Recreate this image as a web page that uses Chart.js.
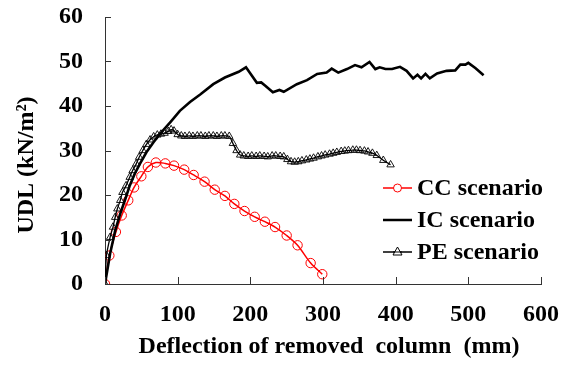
<!DOCTYPE html>
<html><head><meta charset="utf-8">
<script src="https://cdn.jsdelivr.net/npm/chart.js@4/dist/chart.umd.min.js"></script>
<style>html,body{margin:0;padding:0;background:#fff}canvas{display:block}</style>
</head><body>
<canvas id="c" width="569" height="367"></canvas>
<script>
// ---- data ----
const ccX = [0, 6, 15, 23, 32, 40, 50, 59, 70, 83, 95, 109, 122, 137, 151, 165, 178, 192, 206, 220, 234, 250, 265, 283, 299];
const ccY = [0, 6.4, 11.7, 15.4, 18.8, 21.7, 24.2, 26.3, 27.3, 27.1, 26.6, 25.7, 24.5, 23.0, 21.2, 19.8, 18.0, 16.4, 15.1, 14.0, 12.8, 10.9, 8.7, 4.7, 2.2];

const icX = [0, 7, 14, 21, 28, 34, 41, 48, 57, 67, 76, 90, 103, 117, 131, 149, 165, 184, 194, 209, 215, 221, 231, 240, 246, 264, 278, 292, 305, 312, 321, 333, 344, 353, 364, 372, 378, 386, 395, 406, 415, 424, 430, 435, 441, 447, 457, 470, 482, 489, 496, 500, 510, 521];
const icY = [0, 6.8, 12.0, 15.8, 19.1, 22.1, 24.8, 27.0, 29.6, 31.9, 33.8, 36.4, 38.9, 40.9, 42.6, 44.9, 46.4, 47.7, 48.7, 45.2, 45.3, 44.5, 43.1, 43.6, 43.2, 44.9, 45.8, 47.2, 47.5, 48.4, 47.5, 48.3, 49.2, 48.7, 49.9, 48.3, 48.7, 48.3, 48.3, 48.8, 47.9, 46.2, 47.0, 46.2, 47.2, 46.2, 47.3, 47.9, 48.0, 49.3, 49.3, 49.7, 48.5, 46.9];

const peX = [0, 2, 7, 11, 14, 17, 21, 24, 29, 34, 38, 43, 47, 52, 57, 62, 67, 72, 77, 82, 87, 91, 95, 100, 105, 110, 116, 121, 127, 132, 138, 143, 149, 154, 160, 165, 171, 176, 181, 186, 191, 197, 202, 208, 213, 219, 224, 230, 235, 241, 246, 251, 256, 261, 266, 271, 277, 282, 287, 293, 298, 303, 309, 314, 319, 325, 330, 335, 341, 346, 351, 357, 362, 368, 374, 383, 393];
const peY = [0, 6.4, 10.5, 12.8, 15.0, 16.9, 18.8, 20.6, 22.1, 24.0, 25.5, 27.0, 28.5, 30.0, 31.4, 32.4, 33.1, 33.5, 33.7, 33.9, 34.3, 34.7, 34.4, 33.6, 33.3, 33.2, 33.3, 33.2, 33.3, 33.3, 33.2, 33.3, 33.3, 33.2, 33.3, 33.3, 33.2, 31.6, 30.0, 29.0, 28.8, 28.7, 28.8, 28.7, 28.8, 28.7, 28.6, 28.8, 28.8, 28.7, 28.6, 28.0, 27.5, 27.4, 27.5, 27.7, 27.9, 28.1, 28.3, 28.6, 28.8, 29.0, 29.2, 29.4, 29.6, 29.8, 29.9, 30.0, 30.1, 30.1, 30.0, 29.9, 29.7, 29.4, 28.9, 27.8, 26.8];

const seriesNames = ["CC scenario", "IC scenario", "PE scenario"];
const xTicks = [0, 100, 200, 300, 400, 500, 600];
const yTicks = [0, 10, 20, 30, 40, 50, 60];
const xTitle = "Deflection of removed  column  (mm)";
const yTitle = "UDL (kN/m\u00B2)";

const FONT = "'Liberation Serif','Times New Roman',serif";
const pts = (xs, ys) => xs.map((x, i) => ({x: x, y: ys[i]}));

const insideTicks = {
  id: 'insideTicks',
  afterDraw(chart) {
    const {ctx, chartArea: a, scales: {x, y}} = chart;
    ctx.save();
    ctx.strokeStyle = '#333';
    ctx.lineWidth = 1;
    ctx.beginPath();
    yTicks.forEach(v => { const py = Math.round(y.getPixelForValue(v)) + 0.5; ctx.moveTo(a.left, py); ctx.lineTo(a.left + 6, py); });
    xTicks.forEach(v => { const px = Math.round(x.getPixelForValue(v)) + 0.5; ctx.moveTo(px, a.bottom); ctx.lineTo(px, a.bottom - 7); });
    ctx.stroke();
    // axis titles
    ctx.fillStyle = '#000';
    ctx.font = "bold 24px " + FONT;
    ctx.textAlign = 'center';
    ctx.textBaseline = 'middle';
    ctx.fillText(xTitle, 329, 347);
    ctx.translate(27, 165);
    ctx.rotate(-Math.PI / 2);
    ctx.fillText(yTitle, 0, 0);
    ctx.restore();
  }
};

const customLegend = {
  id: 'customLegend',
  afterDraw(chart) {
    const ctx = chart.ctx;
    const rows = [188, 220, 252];
    ctx.save();
    chart.data.datasets.forEach((ds, i) => {
      const yy = rows[i];
      ctx.strokeStyle = ds.borderColor;
      ctx.lineWidth = i === 1 ? 2.5 : 1.5;
      ctx.beginPath(); ctx.moveTo(383, yy); ctx.lineTo(412, yy); ctx.stroke();
      ctx.lineWidth = 1;
      if (ds.pointStyle === 'circle' && ds.pointRadius > 0) {
        ctx.beginPath(); ctx.arc(397.5, yy, 4, 0, Math.PI * 2); ctx.fillStyle = '#fff'; ctx.fill(); ctx.stroke();
      } else if (ds.pointStyle === 'triangle') {
        ctx.beginPath(); ctx.moveTo(397.5, yy - 5); ctx.lineTo(402, yy + 3); ctx.lineTo(393, yy + 3); ctx.closePath(); ctx.fillStyle = '#fff'; ctx.fill(); ctx.stroke();
        ctx.beginPath(); ctx.moveTo(393, yy); ctx.lineTo(402, yy); ctx.stroke();
      }
      ctx.fillStyle = '#000';
      ctx.font = "bold 24px " + FONT;
      ctx.textAlign = 'left';
      ctx.textBaseline = 'middle';
      ctx.fillText(ds.label, 417, yy + 1);
    });
    ctx.restore();
  }
};

const fitX = s => { s.height = 83; s.paddingLeft = 0; s.paddingRight = 0; s.paddingTop = 0; s.paddingBottom = 0; };
const fitY = s => { s.width = 105; s.paddingLeft = 0; s.paddingRight = 0; s.paddingTop = 0; s.paddingBottom = 0; };

new Chart(document.getElementById('c'), {
  type: 'scatter',
  data: {
    datasets: [
      { label: seriesNames[0], data: pts(ccX, ccY), showLine: true, borderColor: '#ff0000', borderWidth: 1.5,
        pointStyle: 'circle', pointRadius: 4.7, pointBorderWidth: 1, pointBackgroundColor: 'rgba(0,0,0,0)', pointBorderColor: '#ff0000', tension: 0.3, order: 3 },
      { label: seriesNames[1], data: pts(icX, icY), showLine: true, borderColor: '#000000', borderWidth: 2.6,
        pointRadius: 0, tension: 0, order: 1 },
      { label: seriesNames[2], data: pts(peX, peY), showLine: true, borderColor: '#000000', borderWidth: 1.3,
        pointStyle: 'triangle', pointRadius: 4.3, pointBorderWidth: 0.9, pointBackgroundColor: 'rgba(0,0,0,0)', pointBorderColor: '#000', tension: 0.2, order: 2 }
    ]
  },
  options: {
    responsive: false,
    animation: false,
    layout: { padding: { top: 17, right: 28, left: 0, bottom: 0 } },
    plugins: { legend: { display: false }, tooltip: { enabled: false } },
    scales: {
      x: {
        type: 'linear', min: 0, max: 600,
        afterFit: fitX,
        grid: { display: false, drawTicks: false },
        border: { display: true, color: '#333', width: 1 },
        ticks: { stepSize: 100, padding: 16, color: '#000', font: { family: FONT, size: 24, weight: 'bold' }, maxRotation: 0 }
      },
      y: {
        type: 'linear', min: 0, max: 60,
        afterFit: fitY,
        grid: { display: false, drawTicks: false },
        border: { display: true, color: '#333', width: 1 },
        ticks: { stepSize: 10, padding: 22, color: '#000', font: { family: FONT, size: 24, weight: 'bold' } }
      }
    }
  },
  plugins: [insideTicks, customLegend]
});
</script>
</body></html>
